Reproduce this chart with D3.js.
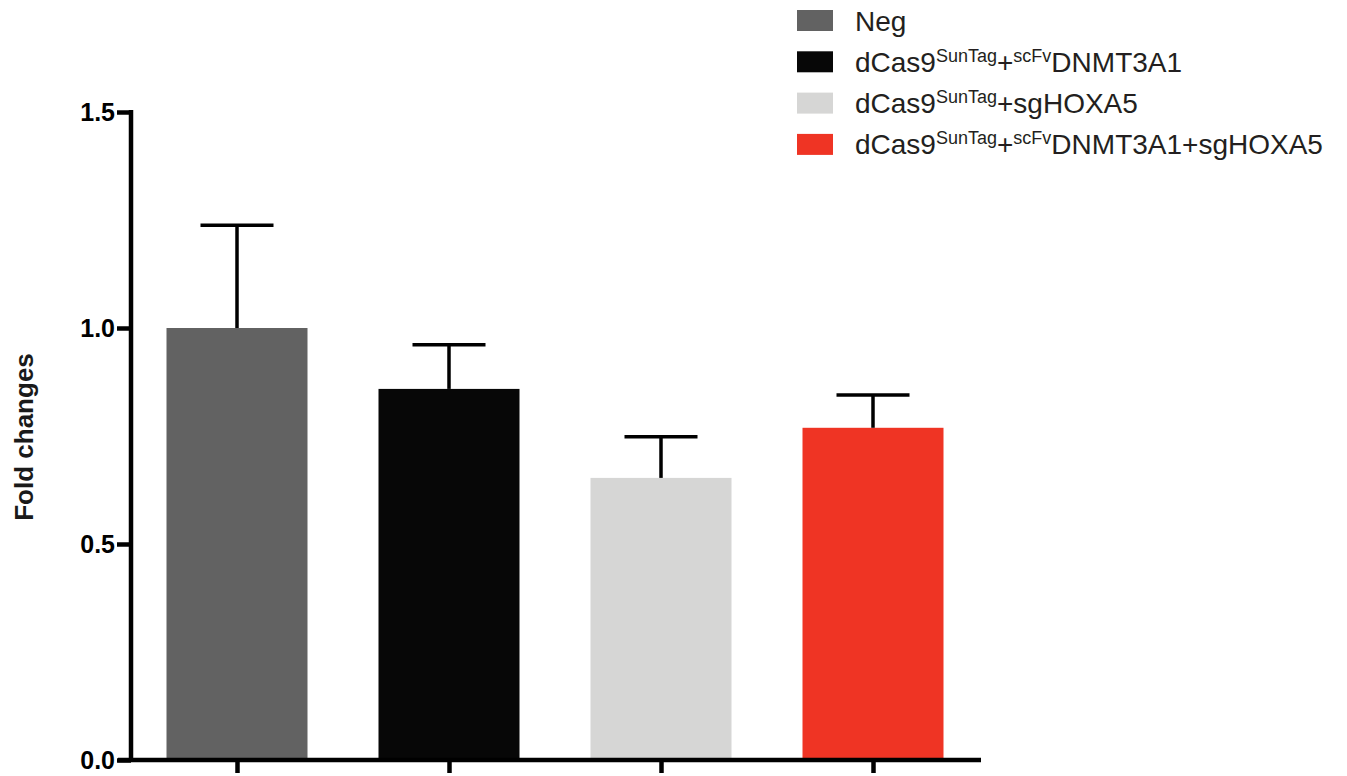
<!DOCTYPE html>
<html>
<head>
<meta charset="utf-8">
<script src="https://cdn.jsdelivr.net/npm/d3@7"></script>
<style>
  body { margin: 0; background: #fff; }
  text { font-family: "Liberation Sans", Arial, sans-serif; }
</style>
</head>
<body>
<div id="chart"></div>
<script>
// data
const groups = ["Neg", "DNMT3A1", "sgHOXA5", "DNMT3A1+sgHOXA5"];
const means = [1.0, 0.859, 0.653, 0.769];
const errors = [0.238, 0.102, 0.095, 0.076];
const colors = ["#626262", "#070707", "#d6d6d5", "#ef3424"];
const yTicks = [0.0, 0.5, 1.0, 1.5];
// legend parts: [text, superscript?]
const legendParts = [
  [["Neg", false]],
  [["dCas9", false], ["SunTag", true], ["+", false], ["scFv", true], ["DNMT3A1", false]],
  [["dCas9", false], ["SunTag", true], ["+sgHOXA5", false]],
  [["dCas9", false], ["SunTag", true], ["+", false], ["scFv", true], ["DNMT3A1+sgHOXA5", false]]
];

const W = 1347, H = 776;
const svg = d3.select("#chart").append("svg")
  .attr("width", W).attr("height", H);

const x = d3.scalePoint()
  .domain(groups)
  .range([131, 979])
  .padding(0.5);

const y = d3.scaleLinear()
  .domain([0, 1.5])
  .range([760, 112]);

const barW = 141;
const capW = 73;

// bars
svg.append("g").selectAll("rect")
  .data(groups)
  .join("rect")
  .attr("x", d => x(d) - barW / 2)
  .attr("y", (d, i) => y(means[i]))
  .attr("width", barW)
  .attr("height", (d, i) => y(0) - y(means[i]))
  .attr("fill", (d, i) => colors[i]);

// error bars (upper only)
const eb = svg.append("g").attr("stroke", "#000").attr("stroke-width", 3.5);
groups.forEach((g, i) => {
  eb.append("line")
    .attr("x1", x(g)).attr("x2", x(g))
    .attr("y1", y(means[i])).attr("y2", y(means[i] + errors[i]));
  eb.append("line")
    .attr("x1", x(g) - capW / 2).attr("x2", x(g) + capW / 2)
    .attr("y1", y(means[i] + errors[i])).attr("y2", y(means[i] + errors[i]));
});

// y axis
const yAxis = d3.axisLeft(y)
  .tickValues(yTicks)
  .tickFormat(d3.format(".1f"))
  .tickSize(14)
  .tickSizeOuter(0)
  .tickPadding(2);

const yG = svg.append("g")
  .attr("transform", "translate(131,0)")
  .call(yAxis);
yG.attr("font-size", null).attr("font-family", null);
yG.select(".domain").attr("stroke-width", 4.5).attr("d", "M0,110V762");
yG.selectAll(".tick line").attr("stroke-width", 4.5);
yG.selectAll(".tick text")
  .attr("font-size", 25).attr("font-weight", "bold").attr("fill", "#000");

// x axis
const xAxis = d3.axisBottom(x)
  .tickSize(13)
  .tickSizeOuter(0)
  .tickFormat("");

const xG = svg.append("g")
  .attr("transform", "translate(0,760)")
  .call(xAxis);
xG.select(".domain").attr("stroke-width", 4.5).attr("d", "M118,0H981");
xG.selectAll(".tick line").attr("stroke-width", 4.5);

// y label
svg.append("text")
  .attr("transform", "translate(33,437) rotate(-90)")
  .attr("text-anchor", "middle")
  .attr("font-size", 26)
  .attr("font-weight", "bold")
  .attr("fill", "#1a1a1a")
  .text("Fold changes");

// legend
const legend = svg.append("g");
legendParts.forEach((parts, i) => {
  const yy = 20.5 + i * 41.3;
  legend.append("rect")
    .attr("x", 797).attr("y", yy - 10.5)
    .attr("width", 36).attr("height", 21)
    .attr("fill", colors[i]);
  const t = legend.append("text")
    .attr("x", 855).attr("y", yy + 10)
    .attr("font-size", 28)
    .attr("fill", "#231f20");
  parts.forEach((p, j) => {
    const ts = t.append("tspan").text(p[0]);
    const prevSup = j > 0 && parts[j - 1][1];
    if (p[1]) {
      ts.attr("font-size", 18).attr("dy", prevSup ? 0 : -10);
    } else {
      ts.attr("dy", prevSup ? 10 : 0);
    }
  });
});
</script>
</body>
</html>
